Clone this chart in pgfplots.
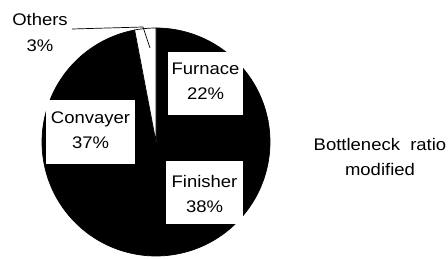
\documentclass[border=0pt]{standalone}
\usepackage{pgfplots}
\usepackage{pgfplotstable}
\usepackage{graphicx}
\usepackage{fontspec}
\setmainfont{Liberation Sans}
\pgfplotsset{compat=1.18}
\newcommand\st[1]{\scalebox{1.1}[1]{#1}}
\pgfplotstableread{
label pct col
Furnace 22 black
Finisher 38 black
Convayer 37 black
Others 3 white
}\piedata
\begin{document}
\begin{tikzpicture}
\useasboundingbox (0,0) rectangle (448pt,258pt);
\begin{axis}[
  at={(0,0)}, anchor=south west,
  x=1pt, y=1pt,
  xmin=0, xmax=448, ymin=0, ymax=258,
  hide axis, clip=false,
  /pgf/number format/assume math mode=true,
]
\def\cum{0}
\pgfplotsforeachungrouped \i in {0,...,3}{%
  \pgfplotstablegetelem{\i}{pct}\of\piedata \let\p\pgfplotsretval
  \pgfplotstablegetelem{\i}{col}\of\piedata \let\f\pgfplotsretval
  \pgfmathsetmacro\aStart{90-3.6*\cum}%
  \pgfmathsetmacro\aEnd{90-3.6*(\cum+\p)}%
  \pgfmathsetmacro\cum{\cum+\p}%
  \edef\temp{\noexpand\addplot[fill=\f, draw=black, line width=0.7pt, domain=\aEnd:\aStart, samples=90, variable=\noexpand\t] ({156+114*cos(\noexpand\t)},{116+114*sin(\noexpand\t)}) -- (axis cs:156,116) -- cycle;}%
  \temp
}
% leader line for Others
\addplot[black, line width=0.7pt] coordinates {(72,229) (143,231) (150,210)};
% label boxes
\fill[white] (axis cs:168,143) rectangle (axis cs:243,206);
\fill[white] (axis cs:166,34) rectangle (axis cs:243,97);
\fill[white] (axis cs:46,94) rectangle (axis cs:135,158);
\tikzset{lab/.style={align=center, inner sep=0pt, font=\fontsize{16.8}{25}\selectfont}}
\node[lab] at (axis cs:205.5,176.5) {\st{Furnace}\\\st{22\%}};
\node[lab] at (axis cs:204.5,64.3) {\st{Finisher}\\\st{38\%}};
\node[lab] at (axis cs:90.5,128) {\st{Convayer}\\\st{37\%}};
\node[lab, font=\fontsize{16.8}{26}\selectfont] at (axis cs:40,226) {\st{Others}\\\st{3\%}};
\node[lab] at (axis cs:380,101) {\st{Bottleneck\ \ ratio}\\\st{modified}};
\end{axis}
\end{tikzpicture}
\end{document}
